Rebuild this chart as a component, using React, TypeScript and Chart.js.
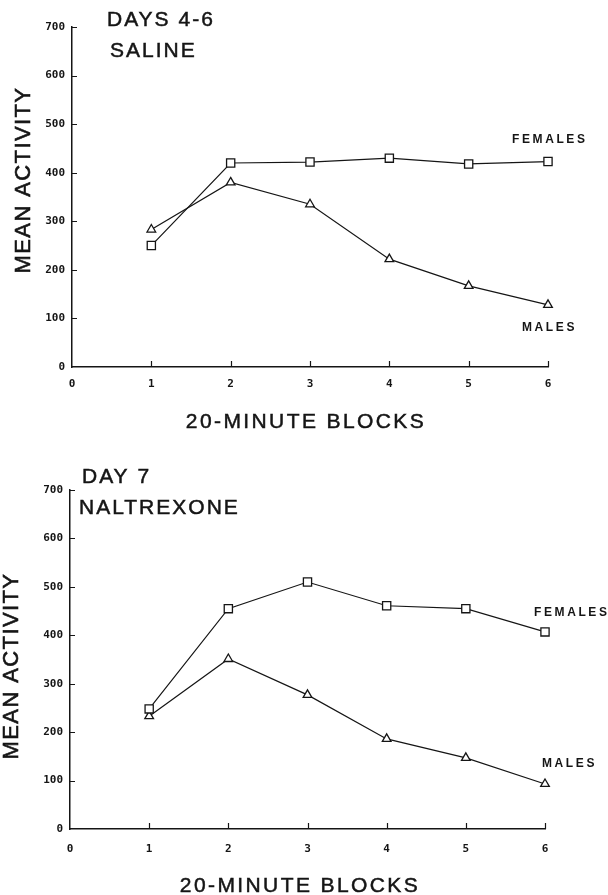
import { useEffect, useRef } from 'react';
import { Chart, registerables } from 'chart.js';

Chart.register(...registerables);

// ---- data ----
const blocks = [1, 2, 3, 4, 5, 6];
const xTickValues = [0, 1, 2, 3, 4, 5, 6];
const yTickValues = [0, 100, 200, 300, 400, 500, 600, 700];

const salineFemales = [250, 420, 422, 430, 418, 423];
const salineMales = [283, 380, 335, 222, 167, 128];
const naltrexoneFemales = [248, 455, 510, 461, 455, 407];
const naltrexoneMales = [233, 351, 277, 186, 147, 93];

const xAxisTitle = '20-MINUTE BLOCKS';
const yAxisTitle = 'MEAN ACTIVITY';
const femaleLabel = 'FEMALES';
const maleLabel = 'MALES';

const INK = '#151515';
const SANS = '"Liberation Sans", Arial, sans-serif';

type Pos = { x: number; y: number };
type PanelProps = {
  top: number;
  height: number;
  area: { left: number; right: number; top: number; bottom: number };
  titles: { text: string; x: number; y: number }[];
  yTitle: { cx: number; cy: number };
  xTitle: { cx: number; y: number };
  femalePos: Pos;
  malePos: Pos;
  females: number[];
  males: number[];
  xTickPad: number;
};

function Panel(p: PanelProps) {
  const ref = useRef<HTMLCanvasElement>(null);
  useEffect(() => {
    const canvas = ref.current!;
    const textPlugin = {
      id: 'panelText',
      afterDraw(chart: any) {
        const ctx = chart.ctx as CanvasRenderingContext2D;
        const a = chart.chartArea;
        const xs = chart.scales.x;
        const ys = chart.scales.y;
        ctx.save();
        // inside tick marks
        ctx.strokeStyle = INK;
        ctx.lineWidth = 1.2;
        ctx.beginPath();
        yTickValues.forEach((v) => {
          if (v === 0) return;
          const y = Math.round(ys.getPixelForValue(v)) + 0.5;
          ctx.moveTo(a.left, y);
          ctx.lineTo(a.left + 5, y);
        });
        xTickValues.forEach((v) => {
          if (v === 0) return;
          const x = Math.round(xs.getPixelForValue(v)) + 0.5;
          ctx.moveTo(x, a.bottom);
          ctx.lineTo(x, a.bottom - 6);
        });
        ctx.stroke();

        ctx.fillStyle = INK;
        ctx.strokeStyle = INK;
        const put = (s: string, x: number, y: number, font: string, ls: number, align: CanvasTextAlign = 'left', sw = 0.5) => {
          ctx.font = font;
          (ctx as any).letterSpacing = ls + 'px';
          ctx.textAlign = align;
          ctx.textBaseline = 'alphabetic';
          ctx.fillText(s, x, y);
          if (sw > 0) {
            ctx.lineWidth = sw;
            ctx.strokeText(s, x, y);
          }
        };
        p.titles.forEach((t) => put(t.text, t.x, t.y, `21px ${SANS}`, 2));
        put(xAxisTitle, p.xTitle.cx, p.xTitle.y, `21px ${SANS}`, 2.4, 'center');
        put(femaleLabel, p.femalePos.x, p.femalePos.y, `bold 12px ${SANS}`, 2.6, 'left', 0);
        put(maleLabel, p.malePos.x, p.malePos.y, `bold 12px ${SANS}`, 2.6, 'left', 0);

        ctx.save();
        ctx.translate(p.yTitle.cx, p.yTitle.cy);
        ctx.rotate(-Math.PI / 2);
        ctx.font = `22px ${SANS}`;
        (ctx as any).letterSpacing = '1.4px';
        ctx.textAlign = 'center';
        ctx.textBaseline = 'middle';
        ctx.fillText(yAxisTitle, 0, 0);
        ctx.lineWidth = 0.6;
        ctx.strokeText(yAxisTitle, 0, 0);
        ctx.restore();
        ctx.restore();
      },
    };

    const chart = new Chart(canvas, {
      type: 'line',
      data: {
        datasets: [
          {
            label: femaleLabel,
            data: blocks.map((b, i) => ({ x: b, y: p.females[i] })),
            borderColor: INK,
            borderWidth: 1.2,
            pointStyle: 'rect',
            pointRadius: 5.8,
            pointBackgroundColor: '#ffffff',
            pointBorderColor: INK,
            pointBorderWidth: 1.3,
            tension: 0,
            clip: false,
          },
          {
            label: maleLabel,
            data: blocks.map((b, i) => ({ x: b, y: p.males[i] })),
            borderColor: INK,
            borderWidth: 1.2,
            pointStyle: 'triangle',
            pointRadius: 5,
            pointBackgroundColor: '#ffffff',
            pointBorderColor: INK,
            pointBorderWidth: 1.3,
            tension: 0,
            clip: false,
          },
        ],
      },
      options: {
        responsive: false,
        animation: false,
        devicePixelRatio: 1,
        layout: {
          padding: { left: 0, right: 608 - p.area.right, top: p.area.top, bottom: 0 },
        },
        plugins: { legend: { display: false }, tooltip: { enabled: false } },
        scales: {
          x: {
            type: 'linear',
            min: 0,
            max: 6,
            grid: { display: false, drawTicks: false },
            border: { display: true, color: INK, width: 1.5 },
            afterBuildTicks: (s: any) => {
              s.ticks = xTickValues.map((v) => ({ value: v }));
            },
            afterFit: (s: any) => {
              s.height = p.height - p.area.bottom;
            },
            ticks: {
              color: INK,
              padding: p.xTickPad,
              font: { family: '"DejaVu Sans Mono", monospace', size: 11, weight: 'bold' },
              maxRotation: 0,
              autoSkip: false,
            },
          },
          y: {
            type: 'linear',
            min: 0,
            max: 700,
            grid: { display: false, drawTicks: false },
            border: { display: true, color: INK, width: 1.5 },
            afterBuildTicks: (s: any) => {
              s.ticks = yTickValues.map((v) => ({ value: v }));
            },
            afterFit: (s: any) => {
              s.width = p.area.left;
            },
            ticks: {
              color: INK,
              padding: 7,
              font: { family: '"DejaVu Sans Mono", monospace', size: 11, weight: 'bold' },
              autoSkip: false,
            },
          },
        },
      } as any,
      plugins: [textPlugin],
    });
    return () => chart.destroy();
  }, []);
  return (
    <canvas
      ref={ref}
      width={608}
      height={p.height}
      style={{ position: 'absolute', left: 0, top: p.top, width: 608, height: p.height }}
    />
  );
}

export default function App() {
  return (
    <div style={{ position: 'absolute', left: 0, top: 0, width: 608, height: 895, background: '#fff' }}>
      <Panel
        top={0}
        height={440}
        area={{ left: 72, right: 548, top: 27, bottom: 367 }}
        titles={[
          { text: 'DAYS 4-6', x: 107, y: 26 },
          { text: 'SALINE', x: 110, y: 57 },
        ]}
        yTitle={{ cx: 24, cy: 180 }}
        xTitle={{ cx: 306, y: 428 }}
        femalePos={{ x: 512, y: 143 }}
        malePos={{ x: 522, y: 331 }}
        females={salineFemales}
        males={salineMales}
        xTickPad={11}
      />
      <Panel
        top={440}
        height={455}
        area={{ left: 70, right: 545, top: 50, bottom: 389 }}
        titles={[
          { text: 'DAY 7', x: 82, y: 43 },
          { text: 'NALTREXONE', x: 79, y: 74 },
        ]}
        yTitle={{ cx: 12, cy: 226 }}
        xTitle={{ cx: 300, y: 452 }}
        femalePos={{ x: 534, y: 176 }}
        malePos={{ x: 542, y: 327 }}
        females={naltrexoneFemales}
        males={naltrexoneMales}
        xTickPad={14}
      />
    </div>
  );
}
